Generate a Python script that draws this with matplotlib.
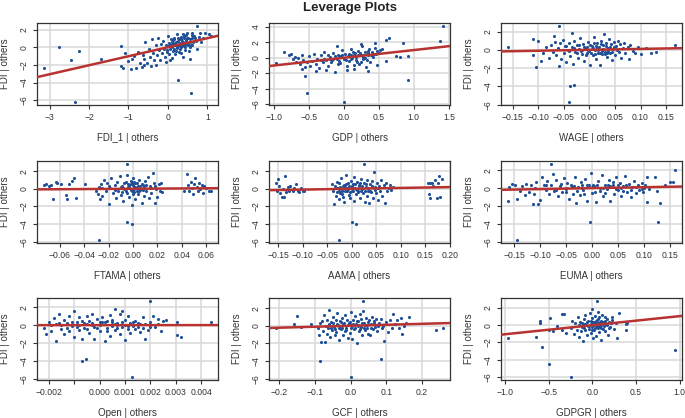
import matplotlib
matplotlib.use("Agg")
import matplotlib.pyplot as plt

plt.rcParams["font.family"] = ["Liberation Sans", "DejaVu Sans"]

# (x, y) pairs per panel
fdi1_pts = [(-3.15, -2.35), (-2.75, 0.0), (-2.45, -1.4), (-2.25, -0.4), (-2.35, -6.2), (-1.7, -1.35),
            (0.25, -3.75), (0.58, -5.2), (0.75, 2.4), (0.6, 1.6), (0.82, 1.6), (0.95, 1.6), (1.05, 1.5), (1.1, 1.3),
            (-1.2, -2.1), (-1.15, -2.3), (-1.18, 0.1), (-1.1, -0.6), (-1.0, -1.6), (-0.93, -2.5), (-0.9, -1.3),
            (-0.85, -1.0), (-0.8, -2.3), (-0.75, -0.5), (-0.72, -1.8), (-0.66, -2.25), (-0.62, -0.9), (-0.6, -1.3),
            (-0.57, 0.6), (-0.52, -1.8), (-0.48, -0.2), (-0.45, -1.1), (-0.42, -2.1), (-0.4, 0.9), (-0.38, -0.6),
            (-0.35, -1.5), (-0.3, 0.2), (-0.28, -0.9), (-0.25, 1.0), (-0.22, -0.3), (-0.2, -1.4), (-0.18, 0.4),
            (-0.15, -0.7), (-0.12, 0.7), (-0.1, -0.2), (-0.08, -1.1), (-0.05, 0.3), (-0.03, -0.5), (0.0, 0.1),
            (0.0, 1.3), (0.02, -0.8), (0.04, 0.5), (0.06, -0.2), (0.08, 0.9), (0.1, 0.0), (0.1, -1.2), (0.12, 0.4),
            (0.14, -0.4), (0.15, 1.1), (0.17, 0.2), (0.18, -0.8), (0.2, 0.6), (0.22, 1.5), (0.23, -0.1), (0.25, 0.3),
            (0.27, 0.9), (0.28, -0.5), (0.3, 0.5), (0.32, 1.2), (0.33, 0.0), (0.35, 0.7), (0.37, -1.1), (0.38, 0.3),
            (0.4, 1.0), (0.42, 0.5), (0.44, -0.3), (0.45, 1.4), (0.47, 0.8), (0.5, 0.2), (0.52, 1.1), (0.55, -1.3),
            (0.57, 0.6), (0.6, 1.0), (0.62, 0.3), (0.65, 1.3), (0.7, 0.7), (0.73, -0.2), (0.8, 1.2), (0.85, 0.6),
            (0.9, 1.1), (-0.05, -1.7), (0.05, -1.5), (-0.3, -2.0), (-0.6, -2.0), (0.3, 0.1), (0.2, 0.2),
            (0.4, 0.2), (0.1, 0.6), (0.35, 0.4), (0.25, 0.7), (0.45, 0.6), (0.15, -0.2),
            (0.05, 0.2), (0.12, 0.8), (0.18, 0.5), (0.22, 0.0), (0.26, 1.1), (0.29, 0.4), (0.31, -0.2), (0.34, 0.9),
            (0.36, 0.1), (0.39, 0.6), (0.41, 1.3), (0.43, 0.0), (0.46, 0.4), (0.48, 1.0), (0.51, 0.5), (0.53, -0.4),
            (0.56, 0.9), (0.58, 0.2), (0.61, 1.4), (0.64, 0.6), (0.68, 1.0), (0.2, -0.4), (0.27, 0.2), (0.33, -0.6),
            (0.08, 0.3), (-0.02, -0.3), (0.38, 1.5), (0.48, 1.6), (0.55, 0.0), (0.16, 0.9)]

gdp_pts = [(-0.97, -0.7), (-0.85, 0.8), (-0.55, -2.4), (-0.53, -4.5), (0.0, -5.7), (0.92, -2.9), (0.92, 0.2),
           (0.85, 1.9), (1.38, 2.2), (1.42, 4.1), (0.65, 2.6), (0.6, 2.3), (0.6, -0.4), (0.75, 0.2), (0.8, 0.1),
           (0.55, 1.2), (0.45, 1.9), (-0.78, 0.3), (-0.75, 0.5), (-0.72, -0.2), (-0.7, 0.1), (-0.68, -0.5),
           (-0.65, 0.0), (-0.62, -0.8), (-0.6, 0.4), (-0.58, -0.3), (-0.55, -1.2), (-0.52, -0.6), (-0.5, 0.2),
           (-0.48, -1.0), (-0.45, -0.4), (-0.42, 0.5), (-0.4, -0.8), (-0.38, -0.1), (-0.35, -1.3), (-0.33, 0.3),
           (-0.3, -0.6), (-0.28, 0.8), (-0.25, -0.3), (-0.23, -1.0), (-0.2, 0.1), (-0.18, -0.5), (-0.15, 0.6),
           (-0.13, -1.8), (-0.1, -0.2), (-0.08, 0.4), (-0.05, -0.7), (-0.03, 1.0), (0.0, -0.1), (0.02, 0.5),
           (0.04, -1.0), (0.06, 0.2), (0.08, -0.4), (0.1, 1.2), (0.12, 0.0), (0.14, -1.4), (0.16, 0.6),
           (0.18, -0.3), (0.2, 0.9), (0.22, -0.8), (0.24, 0.3), (0.26, 1.5), (0.28, -0.2), (0.3, 0.7),
           (0.32, -1.2), (0.34, 0.4), (0.36, 1.1), (0.38, -0.5), (0.4, 0.8), (0.42, 0.1), (0.44, 1.3),
           (0.46, 0.5), (0.48, -0.9), (0.5, 0.6), (0.52, 1.0), (-0.25, -1.6), (0.05, -1.6), (-0.4, -1.7),
           (0.25, 1.8), (-0.6, -1.5), (0.35, -1.7), (-0.1, 1.5), (0.15, -0.9), (0.28, 0.1), (-0.05, 0.2),
           (0.1, 0.4), (-0.15, -0.1), (0.2, 0.3), (0.35, 0.6), (-0.2, -0.2), (0.4, 0.4),
           (-0.28, -0.1), (-0.22, 0.3), (-0.17, -0.3), (-0.12, 0.2), (-0.07, -0.4), (-0.02, 0.3), (0.03, -0.3),
           (0.07, 0.5), (0.11, -0.1), (0.15, 0.3), (0.19, -0.6), (0.23, 0.6), (0.27, 0.3), (0.31, 0.0),
           (0.35, 0.9), (0.39, 0.3), (0.43, 0.5), (0.47, 0.9), (0.33, -0.3), (0.13, 0.8), (-0.08, -0.8),
           (-0.32, -0.3), (0.01, 0.0), (0.18, 0.1), (0.25, -0.5)]

wage_pts = [(-0.16, 0.3), (-0.11, 1.2), (-0.1, 1.0), (-0.11, -0.6), (-0.105, -1.9), (-0.095, -1.2), (-0.06, 2.6),
            (-0.035, 1.8), (-0.038, -4.0), (-0.03, -3.8), (-0.04, -5.7), (0.168, 0.5), (0.13, -0.2), (0.12, -0.3),
            (0.1, -0.5), (0.11, 0.2), (0.09, -0.3), (0.095, 0.3), (-0.09, -0.4), (-0.085, 0.3), (-0.08, -0.9),
            (-0.075, 0.5), (-0.072, -0.2), (-0.07, 1.5), (-0.068, 0.9), (-0.065, -0.6), (-0.062, 0.2),
            (-0.06, -1.8), (-0.058, 0.7), (-0.055, -1.0), (-0.052, 1.1), (-0.05, -0.3), (-0.048, 0.4),
            (-0.045, -1.3), (-0.042, 0.0), (-0.04, 0.8), (-0.038, -0.7), (-0.035, 0.3), (-0.032, -1.6),
            (-0.03, 1.0), (-0.028, -0.2), (-0.025, 0.5), (-0.022, -0.9), (-0.02, 0.1), (-0.018, 1.3),
            (-0.015, -0.5), (-0.012, 0.6), (-0.01, -1.2), (-0.008, 0.2), (-0.005, -0.4), (-0.002, 0.9),
            (0.0, -0.1), (0.002, -1.7), (0.004, 0.4), (0.006, -0.6), (0.008, 1.4), (0.01, 0.0), (0.012, -1.0),
            (0.014, 0.7), (0.016, -0.3), (0.018, 0.3), (0.02, -1.7), (0.022, 1.0), (0.024, -0.5), (0.026, 0.5),
            (0.028, 1.7), (0.03, -0.2), (0.032, 0.8), (0.034, -0.8), (0.036, 0.2), (0.038, 1.2), (0.04, -0.4),
            (0.042, 0.6), (0.044, -1.1), (0.046, 0.1), (0.048, 0.9), (0.05, -0.6), (0.052, 0.4), (0.055, 1.0),
            (0.058, -0.2), (0.06, 0.6), (0.062, -0.9), (0.065, 0.2), (0.068, 0.7), (0.07, -0.4), (0.075, 0.3),
            (0.078, -1.0), (0.08, 0.5), (0.085, -0.1), (-0.005, 0.3), (0.015, 0.2), (0.025, -0.1),
            (-0.015, 0.0), (0.005, 0.1), (0.035, -0.3), (-0.045, 0.4),
            (-0.03, 0.2), (-0.025, -0.3), (-0.02, 0.5), (-0.016, -0.1), (-0.011, 0.3), (-0.007, -0.6),
            (-0.003, 0.0), (0.001, 0.5), (0.003, -0.3), (0.007, 0.2), (0.011, -0.5), (0.013, 0.4), (0.017, 0.0),
            (0.021, -0.3), (0.023, 0.6), (0.027, 0.1), (0.031, -0.5), (0.033, 0.4), (0.037, -0.1), (0.041, 0.3),
            (0.045, -0.2), (0.049, 0.3), (0.053, 0.0), (-0.04, -0.1), (0.009, 0.8)]

ftama_pts = [(-0.005, -3.8), (-0.001, -4.0), (-0.028, -5.8), (-0.005, 2.8), (-0.073, 0.4), (-0.071, 0.5),
             (-0.069, 0.3), (-0.067, 0.4), (-0.065, -1.2), (-0.063, 0.8), (-0.062, 0.6), (-0.059, 0.5),
             (-0.055, -0.7), (-0.054, -1.2), (-0.052, 0.5), (-0.05, 0.9), (-0.048, 1.2), (-0.047, -1.1),
             (-0.039, 0.5), (-0.03, -0.3), (-0.029, -0.6), (-0.028, 0.2), (-0.027, -1.2), (-0.026, 0.5),
             (-0.025, -0.8), (-0.024, 1.0), (-0.022, -0.3), (-0.021, 0.6), (-0.02, -1.7), (-0.019, 0.1),
             (-0.018, 1.2), (-0.016, -0.5), (-0.015, 0.4), (-0.014, -1.1), (-0.013, 0.8), (-0.012, -0.2),
             (-0.011, 1.4), (-0.01, -0.7), (-0.009, 0.3), (-0.008, -1.4), (-0.007, 0.6), (-0.006, -0.3),
             (-0.005, 1.6), (-0.004, 0.2), (-0.003, -0.9), (-0.002, 0.5), (-0.001, -1.8), (0.0, 0.0), (0.0, 1.2),
             (0.0, 0.4), (0.001, -0.4), (0.001, 0.8), (0.002, -1.2), (0.002, 0.2), (0.003, 0.6), (0.004, -0.6),
             (0.005, 1.0), (0.006, -0.1), (0.007, -1.6), (0.008, 0.4), (0.009, -0.8), (0.01, 0.9), (0.011, -0.3),
             (0.012, 1.3), (0.013, -1.1), (0.014, 0.3), (0.015, -0.5), (0.016, 1.8), (0.017, 0.6), (0.018, -1.6),
             (0.019, 0.0), (0.02, -0.9), (0.021, 0.5), (0.022, -0.2), (0.023, 0.7), (0.024, -0.4), (-0.002, -0.1),
             (0.003, 0.1), (-0.008, 0.1), (0.006, 0.3), (-0.001, 0.6), (0.001, 0.2), (-0.003, 0.3),
             (-0.01, 0.2), (-0.009, -0.4), (-0.007, 0.0), (-0.006, 0.8), (-0.005, -0.5), (-0.004, 0.5),
             (-0.003, 0.1), (-0.002, 0.9), (-0.001, -0.3), (0.0, 0.6), (0.0, -0.6), (0.001, 0.0), (0.002, 0.7),
             (0.003, -0.3), (0.004, 0.3), (0.005, -0.2), (0.007, 0.5), (0.008, -0.1), (0.009, 0.2), (0.011, 0.4),
             (-0.015, -0.1), (-0.02, 0.3), (0.015, 0.1), (-0.025, 0.1), (0.018, 0.3),
             (0.042, -0.2), (0.044, 1.7), (0.045, 0.4), (0.046, -0.3), (0.047, 0.8), (0.048, 0.1), (0.049, -0.6),
             (0.05, 0.5), (0.051, 1.2), (0.052, 0.2), (0.053, -0.3), (0.054, 0.7), (0.055, 0.0), (0.056, 0.4),
             (0.057, -0.5), (0.058, 0.3), (0.06, 0.1), (0.062, -0.2), (0.064, -0.2)]

aama_pts = [(0.0, -3.8), (0.008, -4.0), (-0.025, -5.8), (0.025, 2.8), (-0.155, 0.6), (-0.152, -0.3),
            (-0.15, 1.1), (-0.148, 0.3), (-0.146, -0.5), (-0.143, -0.9), (-0.14, 0.0), (-0.138, -0.9),
            (-0.135, 1.5), (-0.133, -0.4), (-0.13, 0.2), (-0.127, -0.2), (-0.125, 0.3), (-0.12, -0.3),
            (-0.117, 0.1), (-0.113, 0.5), (-0.11, -0.2), (-0.107, -0.4), (-0.103, 0.1), (-0.1, -0.3),
            (-0.097, -0.3), (-0.04, 0.5), (-0.038, -0.2), (-0.036, -1.7), (-0.035, 0.3), (-0.033, -0.8),
            (-0.031, 0.8), (-0.03, -0.4), (-0.028, 0.1), (-0.026, -1.2), (-0.025, 0.6), (-0.023, -0.5),
            (-0.021, 1.2), (-0.02, 0.0), (-0.018, -0.9), (-0.016, 0.4), (-0.015, -1.5), (-0.013, 0.2),
            (-0.011, 1.6), (-0.01, -0.3), (-0.008, 0.7), (-0.006, -0.7), (-0.005, 0.3), (-0.003, -1.1),
            (-0.001, 0.9), (0.0, -0.2), (0.002, 0.5), (0.004, -1.4), (0.005, 1.3), (0.007, 0.1), (0.009, -0.6),
            (0.011, 0.8), (0.013, -0.3), (0.015, 0.4), (0.017, -1.0), (0.019, 1.1), (0.02, 0.0), (0.022, -0.5),
            (0.024, 0.6), (0.026, -1.5), (0.028, 0.2), (0.03, -0.8), (0.032, 1.0), (0.034, -0.2), (0.036, -1.6),
            (0.038, 0.5), (0.04, -0.4), (0.042, 0.9), (0.044, -1.0), (0.046, 1.9), (0.048, 0.2), (0.05, -0.5),
            (0.052, 0.7), (0.054, -1.3), (0.056, 0.3), (0.058, -0.2), (0.06, 1.0), (0.062, -0.8), (0.065, 0.4),
            (0.068, -1.6), (0.07, 0.6), (0.072, -0.3), (0.075, 0.1), (0.078, 0.4), (0.08, -0.1), (0.083, 0.2),
            (-0.01, 0.1), (0.0, 0.3), (0.01, -0.1), (-0.02, -0.3),
            (-0.03, 0.1), (-0.027, -0.3), (-0.024, 0.2), (-0.019, -0.6), (-0.017, 0.3), (-0.014, -0.2),
            (-0.012, 0.5), (-0.007, 0.0), (-0.004, -0.4), (0.001, 0.2), (0.003, -0.2), (0.006, 0.5), (0.008, 0.0),
            (0.012, -0.4), (0.014, 0.3), (0.016, 0.7), (0.018, -0.2), (0.021, 0.3), (0.027, -0.3), (0.029, 0.5),
            (0.033, 0.1), (0.037, -0.3), (0.041, 0.3), (0.047, -0.1), (0.053, 0.1),
            (0.155, 0.7), (0.158, -0.6), (0.16, -1.0), (0.163, 0.7), (0.165, 0.3), (0.17, 1.0), (0.173, -1.0),
            (0.176, 0.6), (0.178, 1.4), (0.18, -0.9), (0.183, 1.1), (0.16, 0.7)]

euma_pts = [(-0.145, -5.8), (-0.005, -3.8), (0.127, -3.8), (0.16, 2.0), (-0.08, 2.7), (0.13, -1.7),
            (0.105, -1.5), (-0.163, -1.4), (0.155, 0.7), (0.15, 0.7), (0.14, 0.3), (0.12, 1.3), (0.125, -0.3),
            (-0.16, 0.1), (-0.155, 0.5), (-0.148, 0.4), (-0.145, -1.2), (-0.14, -0.3), (-0.135, 0.2),
            (-0.13, -0.8), (-0.127, 0.5), (-0.122, -0.4), (-0.118, 0.3), (-0.115, -1.8), (-0.112, -0.6),
            (-0.108, 0.7), (-0.105, -1.8), (-0.1, -1.3), (-0.097, 1.2), (-0.093, 0.4), (-0.09, -0.2),
            (-0.087, 0.8), (-0.083, -0.6), (-0.08, 0.3), (-0.076, 1.6), (-0.073, -0.3), (-0.07, 0.9),
            (-0.066, -0.9), (-0.062, 0.2), (-0.058, -0.4), (-0.055, 1.1), (-0.051, -0.1), (-0.048, 0.6),
            (-0.045, -1.2), (-0.041, 0.3), (-0.038, -0.6), (-0.034, 1.3), (-0.031, -1.7), (-0.028, 0.1),
            (-0.024, -0.8), (-0.021, 0.7), (-0.017, -0.2), (-0.014, 1.0), (-0.01, -1.4), (-0.007, 0.4),
            (-0.003, 1.7), (0.0, -0.5), (0.004, 0.2), (0.007, -1.6), (0.011, 0.8), (0.014, -0.3), (0.018, 1.5),
            (0.021, -0.9), (0.025, 0.3), (0.028, -0.1), (0.032, 0.9), (0.035, -1.4), (0.039, 0.4), (0.042, -0.6),
            (0.046, 1.2), (0.049, -0.2), (0.053, 0.6), (0.056, -0.9), (0.06, 0.2), (0.063, 1.4), (0.067, -0.4),
            (0.07, 0.5), (0.074, -1.0), (0.077, 0.1), (0.081, 0.8), (0.084, -0.5), (0.088, 0.3), (0.091, -0.2),
            (0.095, 0.6), (0.098, -0.4), (0.102, 0.4), (0.106, 1.2), (0.109, -0.1), (0.002, 0.3), (0.03, 0.4),
            (-0.02, 0.4), (0.06, -0.3), (-0.05, 0.0), (0.015, 0.0), (-0.035, 0.2),
            (-0.06, 0.5), (-0.05, -0.4), (-0.04, 0.1), (-0.03, -0.3), (-0.02, 0.0), (-0.01, 0.3), (0.0, 0.1),
            (0.005, -0.4), (0.01, 0.3), (0.02, 0.0), (0.025, -0.5), (0.035, 0.2), (0.045, -0.1), (0.05, 0.4),
            (0.055, 0.0), (0.065, 0.3), (0.075, -0.2), (0.085, 0.1), (0.095, -0.1), (-0.07, -0.2), (-0.09, 0.3),
            (-0.11, 0.0), (0.1, 0.0), (-0.015, -0.6), (0.04, 0.7)]

open_pts = [(-0.0007, -4.0), (-0.00053, -3.8), (0.00128, -5.8), (0.00197, 2.7), (0.00305, 0.3),
            (0.00305, -1.1), (0.0032, -1.3), (0.0044, 0.4), (-0.0022, -0.3), (-0.0021, -1.0), (-0.002, 0.3),
            (-0.0019, -0.6), (-0.0018, 0.8), (-0.0017, -1.8), (-0.0017, 0.1), (-0.0016, 1.2), (-0.0015, -0.4),
            (-0.0014, 0.6), (-0.0014, -1.0), (-0.0013, 0.2), (-0.0012, -0.7), (-0.0012, 1.0), (-0.0011, -0.1),
            (-0.001, 1.6), (-0.001, -1.3), (-0.0009, 0.4), (-0.0008, -0.5), (-0.0008, 0.9), (-0.0007, -1.5),
            (-0.0006, 0.2), (-0.0006, -0.3), (-0.0005, 1.0), (-0.0004, -0.9), (-0.0004, 0.5), (-0.0003, 1.3),
            (-0.0002, -0.2), (-0.0002, -1.6), (-0.0001, 0.7), (0.0, 0.0), (0.0, -0.7), (0.0001, 0.9),
            (0.0002, -1.8), (0.0002, 0.3), (0.0003, -0.3), (0.0004, 1.1), (0.0004, -1.2), (0.0005, 0.4),
            (0.0006, 1.8), (0.0006, -0.5), (0.0007, 0.2), (0.0008, -1.0), (0.0008, 1.2), (0.0009, -0.2),
            (0.0009, 1.6), (0.001, -1.7), (0.001, 0.6), (0.0011, -0.4), (0.0011, 1.0), (0.0012, -0.9),
            (0.0012, 0.2), (0.0013, -0.1), (0.0014, 0.5), (0.0015, -0.2), (0.0016, -0.8), (0.0017, 0.9),
            (0.0018, -1.5), (0.0018, 0.1), (0.0019, -0.5), (0.002, 0.3), (0.0021, 1.0), (0.0022, -0.2),
            (0.0023, 0.7), (0.0024, -0.7), (0.0025, 0.5), (0.0026, 0.6), (0.0012, 0.1), (0.0005, -0.1),
            (-0.0005, 0.1), (-0.0015, 0.0), (0.0003, 0.5), (-0.0003, 0.2), (0.0007, 0.0), (0.0015, 0.2),
            (-0.0016, 0.2), (-0.0013, -0.3), (-0.0011, 0.4), (-0.0009, -0.2), (-0.0007, 0.5), (-0.0005, -0.4),
            (-0.0003, 0.0), (-0.0001, -0.3), (0.0001, 0.3), (0.0003, -0.6), (0.0005, 0.6), (0.0007, -0.3),
            (0.0009, 0.3), (0.0011, -0.1), (0.0013, 0.4), (0.0014, -0.4), (0.0016, 0.1), (0.0017, -0.3),
            (0.002, -0.2), (-0.0019, 0.0), (0.0006, 0.1), (-0.0008, 0.0), (0.0, 0.4), (0.001, 0.0), (0.0023, 0.1)]

gcf_pts = [(-0.21, -0.3), (-0.16, 0.2), (-0.15, 1.1), (-0.14, -0.1), (-0.11, 0.2), (-0.085, -4.0), (0.0, -5.8),
           (0.085, -3.8), (0.035, 2.8), (0.24, -0.5), (0.26, -0.3), (0.165, 1.0), (0.155, 0.3), (-0.09, -0.3),
           (-0.088, -1.1), (-0.085, 0.3), (-0.082, -1.8), (-0.08, 0.5), (-0.077, -0.6), (-0.075, 1.2),
           (-0.072, -1.8), (-0.07, 0.0), (-0.067, -0.9), (-0.065, 0.7), (-0.062, -0.3), (-0.06, 1.8),
           (-0.057, -1.3), (-0.055, 0.4), (-0.052, -0.5), (-0.05, 1.0), (-0.047, -0.1), (-0.045, -1.1),
           (-0.042, 0.6), (-0.04, -0.7), (-0.037, 1.4), (-0.035, 0.1), (-0.032, -1.6), (-0.03, 0.5),
           (-0.027, -0.4), (-0.025, 0.9), (-0.022, -1.0), (-0.02, 0.2), (-0.017, -0.6), (-0.015, 1.2),
           (-0.012, -0.2), (-0.01, 0.6), (-0.007, -1.4), (-0.005, 0.3), (-0.002, -0.8), (0.0, 1.6), (0.003, 0.0),
           (0.005, -1.5), (0.008, 0.7), (0.01, -0.4), (0.013, 1.1), (0.015, 0.2), (0.018, -1.9), (0.02, 0.5),
           (0.023, -0.6), (0.025, 1.3), (0.028, -0.1), (0.03, 0.8), (0.033, -1.1), (0.035, 1.7), (0.038, 0.3),
           (0.04, -0.5), (0.043, 0.9), (0.045, -0.2), (0.048, 0.4), (0.05, -0.9), (0.053, 0.6), (0.055, -1.0),
           (0.058, 0.2), (0.06, 1.0), (0.063, -0.4), (0.065, 0.5), (0.068, -0.1), (0.07, 0.8), (0.075, -0.6),
           (0.08, 0.3), (0.085, 0.8), (0.09, 0.0), (0.095, -1.7), (0.1, 0.4), (0.105, -0.7), (0.11, 0.7),
           (0.115, -0.3), (0.12, 1.3), (0.125, 0.2), (0.13, 0.6), (0.135, -0.2), (0.14, 0.9), (0.145, -0.9),
           (0.15, 0.0), (0.0, 0.1), (0.02, 0.1), (-0.03, 0.0), (0.04, 0.1),
           (-0.06, 0.2), (-0.055, -0.3), (-0.048, 0.3), (-0.043, -0.4), (-0.038, 0.2), (-0.033, -0.2),
           (-0.028, 0.4), (-0.023, -0.3), (-0.018, 0.3), (-0.013, -0.5), (-0.008, 0.1), (-0.003, 0.4),
           (0.002, -0.3), (0.007, 0.2), (0.012, -0.2), (0.017, 0.5), (0.022, 0.0), (0.027, -0.4), (0.032, 0.3),
           (0.037, -0.2), (0.047, 0.1), (0.057, -0.3), (0.067, 0.3), (0.077, 0.0), (0.087, -0.2)]

gdpgr_pts = [(-0.97, -1.5), (-0.65, -1.4), (-0.6, 0.3), (-0.6, 0.5), (-0.58, -2.5), (-0.5, -4.5), (-0.48, 0.8),
             (-0.35, 1.3), (-0.32, 1.3), (-0.5, -0.6), (-0.45, -0.7), (-0.24, -6.0), (0.95, -2.9), (0.28, -1.5),
             (0.38, -0.5), (0.38, 0.1), (0.4, 0.3), (0.3, 1.4), (0.0, 1.9), (0.05, 2.8), (-0.4, -0.1),
             (-0.35, -0.5), (-0.3, -0.9), (-0.25, -0.3), (-0.23, 0.5), (-0.21, -1.0), (-0.2, 0.2), (-0.18, -0.6),
             (-0.17, 1.0), (-0.15, -1.4), (-0.14, 0.4), (-0.12, -0.2), (-0.11, -1.8), (-0.1, 0.7), (-0.09, -0.5),
             (-0.08, 1.2), (-0.07, 0.0), (-0.06, -1.1), (-0.05, 0.5), (-0.04, -0.4), (-0.03, 1.4), (-0.02, -0.9),
             (-0.01, 0.2), (0.0, -0.2), (0.0, 0.8), (0.01, -1.5), (0.02, 0.4), (0.02, -0.6), (0.03, 1.1),
             (0.04, 0.0), (0.04, -1.2), (0.05, 0.6), (0.06, -0.3), (0.06, 1.5), (0.07, 0.2), (0.08, -0.8),
             (0.08, 0.9), (0.09, -0.1), (0.1, 0.5), (0.1, -1.7), (0.11, 1.2), (0.12, -0.4), (0.13, 0.3),
             (0.14, 0.9), (0.15, -0.7), (0.16, 0.1), (0.17, 0.7), (0.18, -1.1), (0.19, 0.4), (0.2, -0.2),
             (0.22, 0.6), (0.23, 1.0), (0.25, -0.4), (0.27, 0.3), (0.0, 0.2), (0.05, 0.1), (-0.05, -0.1),
             (0.1, 0.0), (0.03, 0.3), (-0.02, 0.1), (0.07, -0.2), (0.12, 0.4), (-0.1, 0.1), (0.15, 0.3),
             (-0.15, 0.0), (-0.12, 0.3), (-0.1, -0.3), (-0.08, 0.1), (-0.06, 0.4), (-0.04, -0.1), (-0.02, 0.5),
             (0.0, -0.5), (0.01, 0.4), (0.02, 0.0), (0.03, -0.3), (0.04, 0.5), (0.05, -0.2), (0.06, 0.3),
             (0.07, 0.7), (0.08, 0.0), (0.09, 0.4), (0.1, -0.3), (0.11, 0.2), (0.13, -0.1), (0.15, 0.5),
             (0.17, 0.0), (0.19, -0.3), (0.21, 0.2), (-0.13, -0.7)]

panel_pts = [fdi1_pts, gdp_pts, wage_pts, ftama_pts, aama_pts, euma_pts, open_pts, gcf_pts, gdpgr_pts]
x_labels = ["FDI_1 | others", "GDP | others", "WAGE | others",
            "FTAMA | others", "AAMA | others", "EUMA | others",
            "Open | others", "GCF | others", "GDPGR | others"]
slopes = [1.02, 1.0, 1.0, 0.9, 0.95, 1.05, 1.0, 1.1, 1.05]

x_ticks = [[-3, -2, -1, 0, 1],
           [-1.0, -0.5, 0.0, 0.5, 1.0, 1.5],
           [-0.15, -0.10, -0.05, 0.0, 0.05, 0.10, 0.15],
           [-0.06, -0.04, -0.02, 0.0, 0.02, 0.04, 0.06],
           [-0.15, -0.10, -0.05, 0.0, 0.05, 0.10, 0.15, 0.20],
           [-0.15, -0.10, -0.05, 0.0, 0.05, 0.10, 0.15],
           [-0.002, -0.001, 0.0, 0.001, 0.002, 0.003, 0.004],
           [-0.2, -0.1, 0.0, 0.1, 0.2],
           [-1.0, -0.5, 0.0, 0.5, 1.0]]
x_ticklabels = [["\u22123", "\u22122", "\u22121", "0", "1"],
                ["\u22121.0", "\u22120.5", "0.0", "0.5", "1.0", "1.5"],
                ["\u22120.15", "\u22120.10", "\u22120.05", "0.00", "0.05", "0.10", "0.15"],
                ["\u22120.06", "\u22120.04", "\u22120.02", "0.00", "0.02", "0.04", "0.06"],
                ["\u22120.15", "\u22120.10", "\u22120.05", "0.00", "0.05", "0.10", "0.15", "0.20"],
                ["\u22120.15", "\u22120.10", "\u22120.05", "0.00", "0.05", "0.10", "0.15"],
                ["\u22120.002", "", "0.000", "0.001", "0.002", "0.003", "0.004"],
                ["\u22120.2", "\u22120.1", "0.0", "0.1", "0.2"],
                ["\u22121.0", "\u22120.5", "0.0", "0.5", "1.0"]]
y_ticks = [[-6, -4, -2, 0, 2], [-6, -4, -2, 0, 2, 4], [-6, -4, -2, 0, 2],
           [-6, -4, -2, 0, 2], [-6, -4, -2, 0, 2], [-6, -4, -2, 0, 2],
           [-6, -4, -2, 0, 2], [-6, -4, -2, 0, 2], [-6, -4, -2, 0, 2]]

W, H = 685, 418
COL_LEFT = [37, 269, 501]
ROW_TOP = [23, 161, 298]
AX_W, AX_H = 181, 82
PT_COLOR = "#1f4f96"
LINE_COLOR = "#b83230"
TXT = "#333333"

fig = plt.figure(figsize=(W / 100, H / 100), dpi=100)
fig.text(350 / W, 1 - 8 / H, "Leverage Plots", ha="center", va="center",
         fontsize=9.5, fontweight="bold", color="#222222")

for i, pts in enumerate(panel_pts):
    r, c = divmod(i, 3)
    ax = fig.add_axes([COL_LEFT[c] / W, 1 - (ROW_TOP[r] + AX_H) / H, AX_W / W, AX_H / H])
    xs = [p[0] for p in pts]
    ys = [p[1] for p in pts]
    ax.margins(0.04)
    ax.set_axisbelow(True)
    ax.grid(True, color="#d9d9d9", lw=1.1)
    ax.scatter(xs, ys, s=5, color=PT_COLOR, linewidths=0, zorder=3)
    ax.axline((0, 0), slope=slopes[i], color=LINE_COLOR, lw=1.8, zorder=4)
    ax.set_xticks(x_ticks[i])
    ax.set_xticklabels(x_ticklabels[i])
    ax.set_yticks(y_ticks[i])
    ax.set_yticklabels([str(v).replace("-", "\u2212") for v in y_ticks[i]], rotation=90, va="center")
    ax.tick_params(labelsize=6.2, labelcolor=TXT, color=TXT, length=3, width=0.8, pad=3)
    for s in ax.spines.values():
        s.set_color("#333333")
        s.set_linewidth(0.9)
    ax.set_xlabel(x_labels[i], fontsize=7, color=TXT, labelpad=8)
    ax.set_ylabel("FDI | others", fontsize=7, color=TXT, labelpad=7)

fig.savefig("out.png", dpi=100)
